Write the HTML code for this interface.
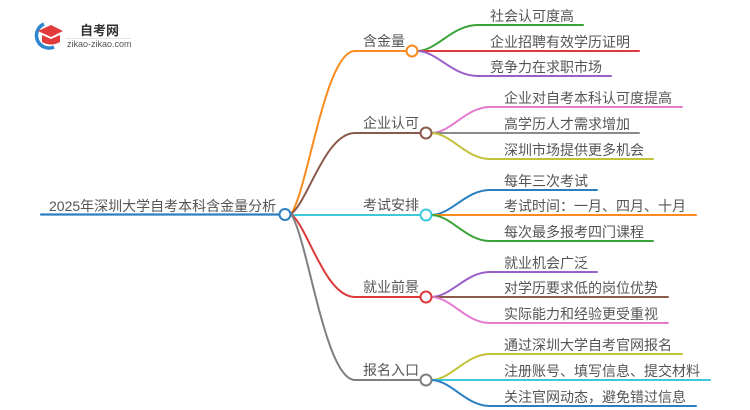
<!DOCTYPE html>
<html><head><meta charset="utf-8"><style>
html,body{margin:0;padding:0;background:#fff;}
svg{display:block;}
text{font-family:"Liberation Sans","Noto Sans CJK SC",sans-serif;font-size:14px;fill:#555;}
</style></head><body>
<svg width="750" height="410" viewBox="0 0 750 410" xmlns="http://www.w3.org/2000/svg">
<!-- logo -->
<path d="M44 24 A12 12 0 1 0 54 47" fill="none" stroke="#2f86cf" stroke-width="3.5"/>
<path d="M38 31 L51 25 L63 31 L51 37 Z" fill="#e23b3b"/>
<path d="M42 35 L42 42 Q51 47 60 42 L60 35 L51 39 Z" fill="#e23b3b"/>
<text x="80" y="35" style="font-size:13px;font-weight:bold;fill:#333">自考网</text>
<line x1="66" y1="38.5" x2="131" y2="38.5" stroke="#e2e2e2" stroke-width="1"/>
<text x="67" y="47" style="font-size:9px;fill:#555">zikao-zikao.com</text>

<g fill="none" stroke-width="2" stroke-linecap="round">
<!-- root -->
<line x1="41" y1="214.5" x2="279" y2="214.5" stroke="#2f7fc1" stroke-width="2.2"/>
<!-- branches -->
<path d="M291 214 C308 190 325 51 355 51 L406 51" stroke="#f98b1f"/>
<path d="M291 214 C308 202 325 133 355 133 L420 133" stroke="#8b5a4b"/>
<path d="M291 215 L420 215" stroke="#3ec9db"/>
<path d="M291 214 C308 227 325 297 355 297 L420 297" stroke="#dc3a3a"/>
<path d="M291 214 C308 239 325 380 355 380 L420 380" stroke="#7f7f7f"/>

<!-- 含金量 children -->
<path d="M418 51 C438 50 452 25 478 25 L583 25" stroke="#3aa33a"/>
<path d="M418 51 L639 51" stroke="#e0393c"/>
<path d="M418 51 C438 52 452 76 478 76 L611 76" stroke="#9b5fc9"/>
<!-- 企业认可 children -->
<path d="M432 133 C452 132 466 107 490 107 L682 107" stroke="#e57ad0"/>
<path d="M432 133 L639 133" stroke="#8a8a8a"/>
<path d="M432 133 C452 134 466 159 490 159 L653 159" stroke="#c1c23a"/>
<!-- 考试安排 children -->
<path d="M432 215 C452 214 466 190 490 190 L597 190" stroke="#2a7fc0"/>
<path d="M432 215 L696 215" stroke="#f98b1f"/>
<path d="M432 215 C452 216 466 241 490 241 L653 241" stroke="#3aa33a"/>
<!-- 就业前景 children -->
<path d="M432 297 C452 296 466 272 490 272 L597 272" stroke="#9b5fc9"/>
<path d="M432 297 L668 297" stroke="#8b5a4b"/>
<path d="M432 297 C452 298 466 323 490 323 L668 323" stroke="#e57ad0"/>
<!-- 报名入口 children -->
<path d="M432 380 C452 379 466 354 490 354 L682 354" stroke="#c1c23a"/>
<path d="M432 380 L710 380" stroke="#3ec9db"/>
<path d="M432 380 C452 381 466 406 490 406 L696 406" stroke="#2a7fc0"/>
</g>

<!-- circles -->
<g fill="#fff" stroke-width="2">
<circle cx="285" cy="214.5" r="5.5" stroke="#2f7fc1"/>
<circle cx="412" cy="51" r="5.5" stroke="#f98b1f"/>
<circle cx="426" cy="133" r="5.5" stroke="#8b5a4b"/>
<circle cx="426" cy="215" r="5.5" stroke="#3ec9db"/>
<circle cx="426" cy="297" r="5.5" stroke="#dc3a3a"/>
<circle cx="426" cy="380" r="5.5" stroke="#7f7f7f"/>
</g>

<!-- labels -->
<text x="49" y="211">2025年深圳大学自考本科含金量分析</text>
<text x="363" y="46">含金量</text>
<text x="363" y="128">企业认可</text>
<text x="363" y="210">考试安排</text>
<text x="363" y="292">就业前景</text>
<text x="363" y="375">报名入口</text>

<text x="490" y="21">社会认可度高</text>
<text x="490" y="47">企业招聘有效学历证明</text>
<text x="490" y="72">竞争力在求职市场</text>

<text x="504" y="103">企业对自考本科认可度提高</text>
<text x="504" y="129">高学历人才需求增加</text>
<text x="504" y="155">深圳市场提供更多机会</text>

<text x="504" y="186">每年三次考试</text>
<text x="504" y="211">考试时间：一月、四月、十月</text>
<text x="504" y="237">每次最多报考四门课程</text>

<text x="504" y="268">就业机会广泛</text>
<text x="504" y="293">对学历要求低的岗位优势</text>
<text x="504" y="319">实际能力和经验更受重视</text>

<text x="504" y="350">通过深圳大学自考官网报名</text>
<text x="504" y="376">注册账号、填写信息、提交材料</text>
<text x="504" y="402">关注官网动态，避免错过信息</text>
</svg>
</body></html>
